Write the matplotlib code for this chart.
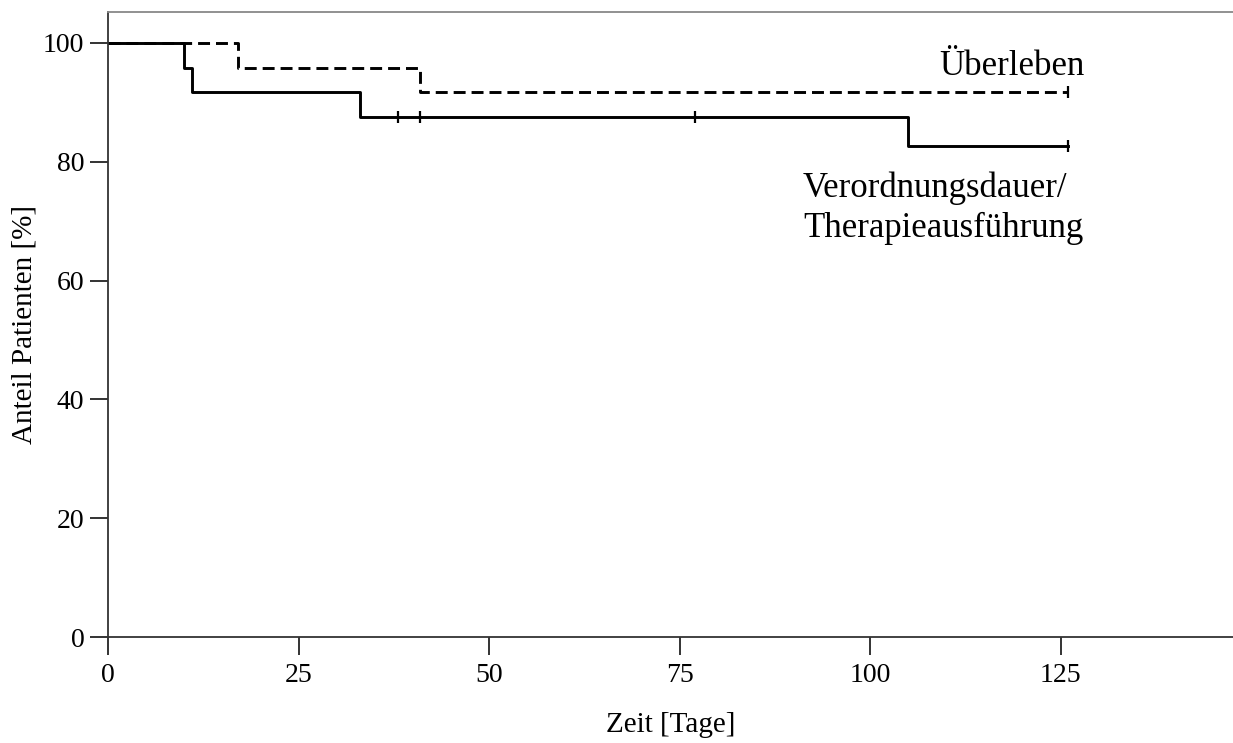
import numpy as np
import matplotlib
matplotlib.use("Agg")
import matplotlib.pyplot as plt

# Kaplan-Meier Stufen (Tage, Anteil in %)
verord_t = [0, 10, 11, 33, 105, 126]
verord_s = [100, 95.83, 91.67, 87.5, 82.64, 82.64]
verord_zensiert = [38, 41, 77, 126]

ueber_t = [0, 17, 41, 126]
ueber_s = [100, 95.83, 91.67, 91.67]
ueber_zensiert = [126]

xticks = [0, 25, 50, 75, 100, 125]
yticks = [0, 20, 40, 60, 80, 100]

label_serif = ["Liberation Serif", "DejaVu Serif"]
tick_font = ["Liberation Serif", "DejaVu Serif"]

plt.rcParams["lines.scale_dashes"] = False


def stufe(t, s, tz):
    # Wert der Treppenfunktion an den zensierten Zeitpunkten
    idx = np.searchsorted(t, tz, side="right") - 1
    return np.asarray(s)[idx]


fig = plt.figure(figsize=(12.33, 7.43), dpi=100)
ax = fig.add_axes([0.08759, 0.14266, 0.91241, 0.84118])

ax.step(ueber_t, ueber_s, where="post", color="black", lw=2.1,
        linestyle=(0, (8.6, 4.3)))
ax.step(verord_t, verord_s, where="post", color="black", lw=2.1)

ax.plot(ueber_zensiert, stufe(ueber_t, ueber_s, ueber_zensiert), "|",
        color="black", ms=9, mew=1.6)
ax.plot(verord_zensiert, stufe(verord_t, verord_s, verord_zensiert), "|",
        color="black", ms=9, mew=1.6)

ax.text(128.1, 94.6, "Überleben", ha="right", va="baseline",
        fontsize=25, family=label_serif)
ax.text(91.2, 74.07, "Verordnungsdauer/", ha="left", va="baseline",
        fontsize=25, family=label_serif)
ax.text(91.2, 67.34, "Therapieausführung", ha="left", va="baseline",
        fontsize=25, family=label_serif)

ax.set_xlim(0, 147.6)
ax.set_ylim(0, 105.2)
ax.set_xticks(xticks)
ax.set_yticks(yticks)
ax.set_xticklabels([str(v) for v in xticks], family=tick_font, fontsize=20)
ax.set_yticklabels([str(v) for v in yticks], family=tick_font, fontsize=20)
ax.tick_params(direction="out", length=13, width=1.4, color="#333333", pad=4)
ax.tick_params(axis="x", pad=6)

ax.spines["right"].set_visible(False)
ax.spines["top"].set_color("#888888")
for s in ["left", "bottom"]:
    ax.spines[s].set_color("#333333")
    ax.spines[s].set_linewidth(1.3)
ax.spines["top"].set_linewidth(1.3)

ax.set_xlabel("Zeit [Tage]", family=label_serif, fontsize=21)
ax.set_ylabel("Anteil Patienten [%]", family=label_serif, fontsize=21)
ax.xaxis.set_label_coords(0.5, -0.12)
ax.yaxis.set_label_coords(-0.063, 0.5)

fig.savefig("out.png", dpi=100)
